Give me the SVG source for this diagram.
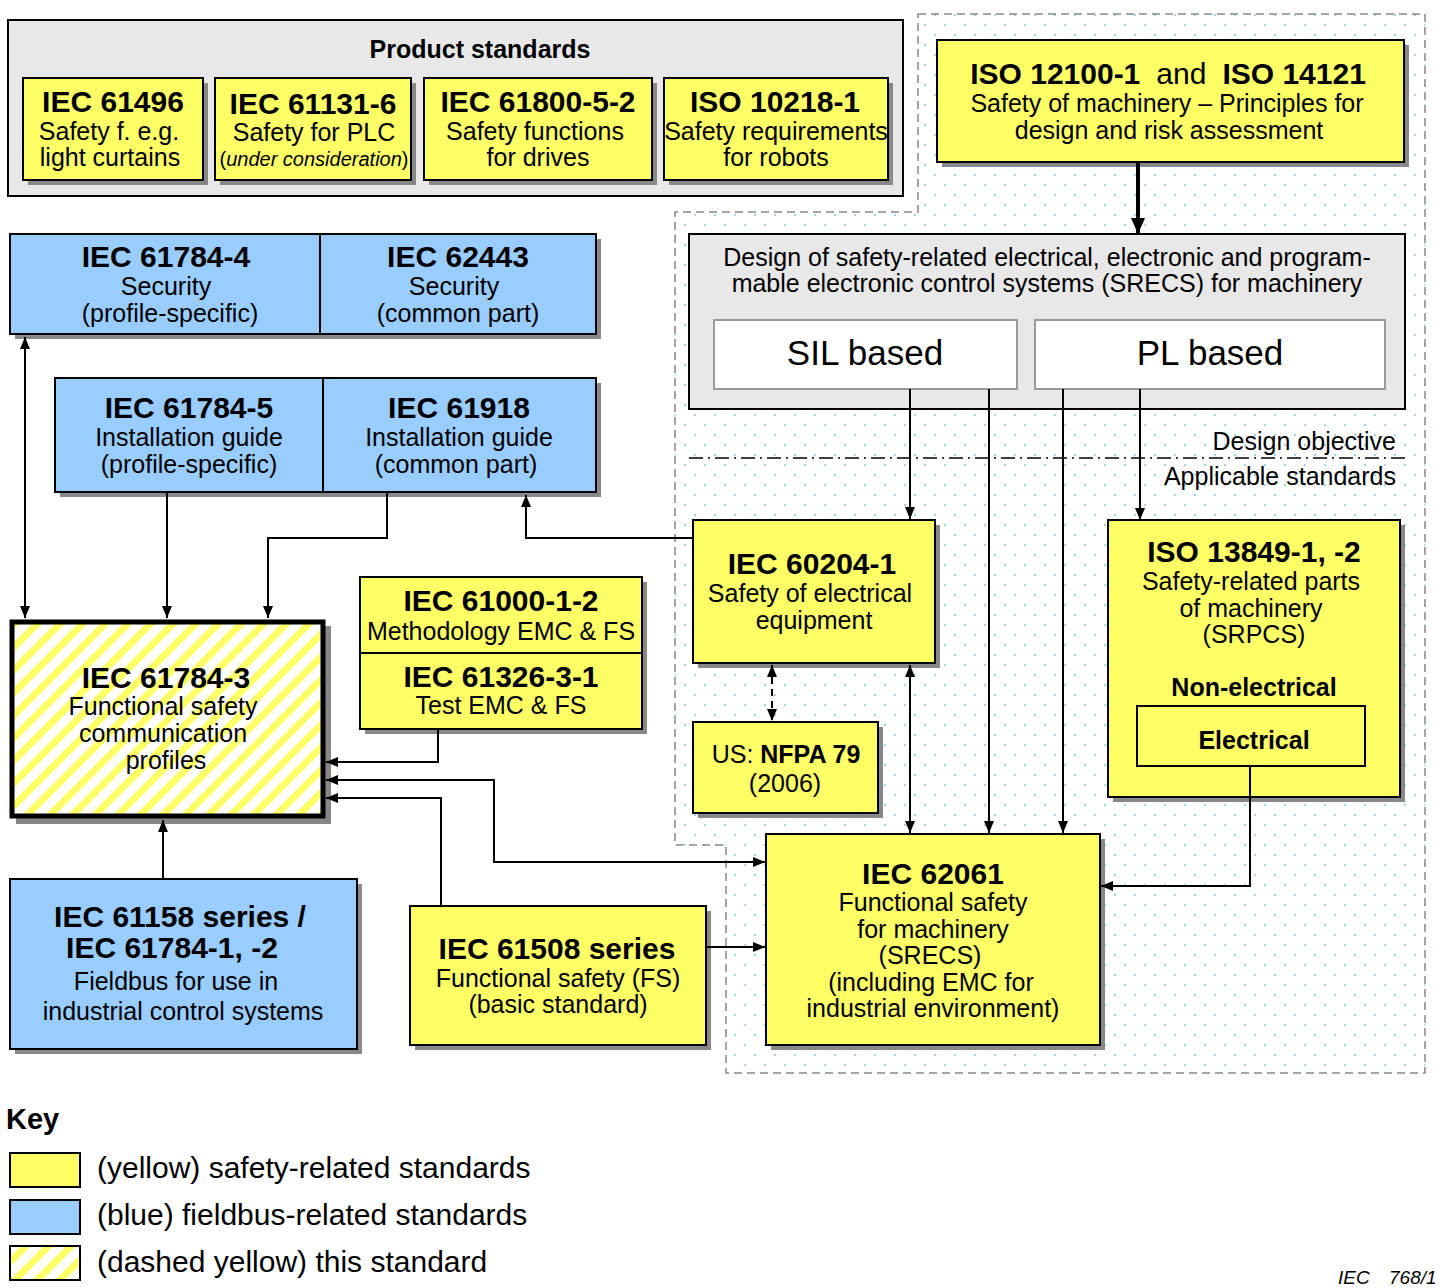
<svg xmlns="http://www.w3.org/2000/svg" width="1442" height="1288" viewBox="0 0 1442 1288">
<style>
text{font-family:"Liberation Sans",Arial,sans-serif;fill:#000;text-anchor:middle}
.t{font-weight:bold;font-size:30px}
.s{font-size:25px}
.y{fill:#ffff66;stroke:#000;stroke-width:2}
.b{fill:#99ccff;stroke:#000;stroke-width:2}
.g{fill:#e8e8e8;stroke:#000;stroke-width:2}
.sh{fill:#888}
.w{fill:#fff;stroke:#999;stroke-width:2}
.c{fill:none;stroke:#000;stroke-width:2}
.k{font-size:30px;text-anchor:start}
</style>
<defs>
<pattern id="dots" width="20" height="20" patternUnits="userSpaceOnUse">
<circle cx="5" cy="5" r="1.2" fill="#9fd6dc"/>
<circle cx="15" cy="15" r="1.2" fill="#9fd6dc"/>
</pattern>
<pattern id="hatch" width="16" height="16" patternUnits="userSpaceOnUse" patternTransform="rotate(45)">
<rect width="16" height="16" fill="#fff"/>
<rect width="7" height="16" fill="#ffff66"/>
</pattern>
<marker id="ah" viewBox="0 0 12 10" refX="12" refY="5" markerWidth="12" markerHeight="10" markerUnits="userSpaceOnUse" orient="auto-start-reverse">
<path d="M0,0 L12,5 L0,10 z" fill="#000"/>
</marker>
<marker id="ahb" viewBox="0 0 16 14" refX="16" refY="7" markerWidth="16" markerHeight="14" markerUnits="userSpaceOnUse" orient="auto">
<path d="M0,0 L16,7 L0,14 z" fill="#000"/>
</marker>
</defs>
<rect width="1442" height="1288" fill="#fff"/>

<g id="scope-region">
<path d="M918,14 L1425,14 L1425,1073 L726,1073 L726,845 L675,845 L675,212 L918,212 Z" fill="url(#dots)" stroke="#888" stroke-width="1.5" stroke-dasharray="8,5"/>
</g>

<g id="product-standards">
<rect x="8" y="20" width="895" height="176" class="g" stroke-width="1.5"/>
<text x="480" y="58" style="font-weight:bold;font-size:25px">Product standards</text>
</g>

<g id="iec61496">
<rect x="28" y="83" width="180" height="102" class="sh"/>
<rect x="23" y="78" width="180" height="102" class="y"/>
<text x="113" y="112" class="t">IEC 61496</text>
<text x="109" y="140" class="s">Safety f. e.g.</text>
<text x="110" y="166" class="s">light curtains</text>
</g>
<g id="iec61131">
<rect x="220" y="83" width="196" height="102" class="sh"/>
<rect x="215" y="78" width="196" height="102" class="y"/>
<text x="313" y="114" class="t">IEC 61131-6</text>
<text x="314" y="141" class="s">Safety for PLC</text>
<text x="314" y="166" style="font-size:20px">(<tspan font-style="italic">under consideration</tspan>)</text>
</g>
<g id="iec61800">
<rect x="429" y="83" width="228" height="102" class="sh"/>
<rect x="424" y="78" width="228" height="102" class="y"/>
<text x="538" y="112" class="t">IEC 61800-5-2</text>
<text x="535" y="140" class="s">Safety functions</text>
<text x="538" y="166" class="s">for drives</text>
</g>
<g id="iso10218">
<rect x="669" y="83" width="224" height="102" class="sh"/>
<rect x="664" y="78" width="224" height="102" class="y"/>
<text x="775" y="112" class="t">ISO 10218-1</text>
<text x="776" y="140" class="s">Safety requirements</text>
<text x="776" y="166" class="s">for robots</text>
</g>

<g id="iso12100">
<rect x="942" y="45" width="467" height="122" class="sh"/>
<rect x="937" y="40" width="467" height="122" class="y"/>
<text x="1168" y="84" class="t">ISO 12100-1<tspan dx="16" font-weight="normal">and</tspan><tspan dx="16">ISO 14121</tspan></text>
<text x="1167" y="112" class="s">Safety of machinery – Principles for</text>
<text x="1169" y="139" class="s">design and risk assessment</text>
</g>

<g id="srecs-design">
<rect x="689" y="234" width="716" height="175" class="g"/>
<text x="1047" y="266" style="font-size:25px">Design of safety-related electrical, electronic and program-</text>
<text x="1047" y="292" style="font-size:25px">mable electronic control systems (SRECS) for machinery</text>
<text x="1396" y="450" style="font-size:25px;text-anchor:end">Design objective</text>
<text x="1396" y="485" style="font-size:25px;text-anchor:end">Applicable standards</text>
</g>
<g id="sil-based">
<rect x="714" y="320" width="303" height="69" class="w"/>
<text x="865" y="365" style="font-size:35px">SIL based</text>
</g>
<g id="pl-based">
<rect x="1035" y="320" width="350" height="69" class="w"/>
<text x="1210" y="365" style="font-size:35px">PL based</text>
</g>

<g id="iec61784-4_62443">
<rect x="15" y="239" width="586" height="100" class="sh"/>
<rect x="10" y="234" width="586" height="100" class="b"/>
<line x1="320" y1="234" x2="320" y2="334" stroke="#000" stroke-width="2"/>
<text x="166" y="267" class="t">IEC 61784-4</text>
<text x="166" y="295" class="s">Security</text>
<text x="170" y="322" class="s">(profile-specific)</text>
<text x="458" y="267" class="t">IEC 62443</text>
<text x="454" y="295" class="s">Security</text>
<text x="458" y="322" class="s">(common part)</text>
</g>
<g id="iec61784-5_61918">
<rect x="60" y="383" width="541" height="114" class="sh"/>
<rect x="55" y="378" width="541" height="114" class="b"/>
<line x1="323" y1="378" x2="323" y2="492" stroke="#000" stroke-width="2"/>
<text x="189" y="418" class="t">IEC 61784-5</text>
<text x="189" y="446" class="s">Installation guide</text>
<text x="189" y="473" class="s">(profile-specific)</text>
<text x="459" y="418" class="t">IEC 61918</text>
<text x="459" y="446" class="s">Installation guide</text>
<text x="456" y="473" class="s">(common part)</text>
</g>

<g id="iec61784-3">
<rect x="16" y="626" width="315" height="198" class="sh"/>
<rect x="12" y="622" width="311" height="194" fill="url(#hatch)" stroke="#000" stroke-width="5"/>
<text x="166" y="688" class="t">IEC 61784-3</text>
<text x="163" y="715" class="s">Functional safety</text>
<text x="163" y="742" class="s">communication</text>
<text x="166" y="769" class="s">profiles</text>
</g>

<g id="iec61000_61326">
<rect x="365" y="582" width="282" height="152" class="sh"/>
<rect x="360" y="577" width="282" height="152" class="y"/>
<line x1="360" y1="653" x2="642" y2="653" stroke="#000" stroke-width="2"/>
<text x="501" y="611" class="t">IEC 61000-1-2</text>
<text x="501" y="640" class="s">Methodology EMC &amp; FS</text>
<text x="501" y="687" class="t">IEC 61326-3-1</text>
<text x="501" y="714" class="s">Test EMC &amp; FS</text>
</g>

<g id="iec60204">
<rect x="698" y="525" width="242" height="143" class="sh"/>
<rect x="693" y="520" width="242" height="143" class="y"/>
<text x="812" y="574" class="t">IEC 60204-1</text>
<text x="810" y="602" class="s">Safety of electrical</text>
<text x="814" y="629" class="s">equipment</text>
</g>

<g id="nfpa79">
<rect x="698" y="727" width="185" height="91" class="sh"/>
<rect x="693" y="722" width="185" height="91" class="y"/>
<text x="786" y="763" class="s">US: <tspan font-weight="bold">NFPA 79</tspan></text>
<text x="785" y="792" class="s">(2006)</text>
</g>

<g id="iso13849">
<rect x="1113" y="525" width="292" height="277" class="sh"/>
<rect x="1108" y="520" width="292" height="277" class="y"/>
<text x="1254" y="562" class="t">ISO 13849-1, -2</text>
<text x="1251" y="590" class="s">Safety-related parts</text>
<text x="1251" y="617" class="s">of machinery</text>
<text x="1254" y="643" class="s">(SRPCS)</text>
<text x="1254" y="696" style="font-weight:bold;font-size:25px">Non-electrical</text>
<rect x="1137" y="706" width="228" height="60" fill="none" stroke="#000" stroke-width="2"/>
<text x="1254" y="749" style="font-weight:bold;font-size:25px">Electrical</text>
</g>

<g id="iec62061">
<rect x="771" y="839" width="334" height="211" class="sh"/>
<rect x="766" y="834" width="334" height="211" class="y"/>
<text x="933" y="884" class="t">IEC 62061</text>
<text x="933" y="911" class="s">Functional safety</text>
<text x="933" y="938" class="s">for machinery</text>
<text x="930" y="964" class="s">(SRECS)</text>
<text x="931" y="991" class="s">(including EMC for</text>
<text x="933" y="1017" class="s">industrial environment)</text>
</g>

<g id="iec61508">
<rect x="415" y="911" width="296" height="139" class="sh"/>
<rect x="410" y="906" width="296" height="139" class="y"/>
<text x="557" y="959" class="t">IEC 61508 series</text>
<text x="558" y="987" class="s">Functional safety (FS)</text>
<text x="558" y="1013" class="s">(basic standard)</text>
</g>

<g id="iec61158">
<rect x="15" y="884" width="347" height="170" class="sh"/>
<rect x="10" y="879" width="347" height="170" class="b"/>
<text x="180" y="927" class="t">IEC 61158 series /</text>
<text x="172" y="958" class="t">IEC 61784-1, -2</text>
<text x="176" y="990" class="s">Fieldbus for use in</text>
<text x="183" y="1020" class="s">industrial control systems</text>
</g>

<g id="connectors">
<path d="M1138,163 L1138,234" fill="none" stroke="#000" stroke-width="4" marker-end="url(#ahb)"/>
<path d="M689,458 L1405,458" fill="none" stroke="#000" stroke-width="1.5" stroke-dasharray="14,5,2,5"/>
<path class="c" d="M910,389 L910,519" marker-end="url(#ah)"/>
<path class="c" d="M989,389 L989,833" marker-end="url(#ah)"/>
<path class="c" d="M1063,389 L1063,833" marker-end="url(#ah)"/>
<path class="c" d="M1140,389 L1140,520" marker-end="url(#ah)"/>
<path class="c" d="M772,665 L772,721" stroke-width="2.5" stroke-dasharray="7,5" marker-start="url(#ah)" marker-end="url(#ah)"/>
<path class="c" d="M910,665 L910,833" marker-start="url(#ah)" marker-end="url(#ah)"/>
<path class="c" d="M693,538 L526,538 L526,495" marker-end="url(#ah)"/>
<path class="c" d="M1250,766 L1250,886 L1101,886" marker-end="url(#ah)"/>
<path class="c" d="M707,947 L765,947" marker-end="url(#ah)"/>
<path class="c" d="M326,780 L494,780 L494,862 L765,862" marker-start="url(#ah)" marker-end="url(#ah)"/>
<path class="c" d="M441,906 L441,798 L326,798" marker-end="url(#ah)"/>
<path class="c" d="M438,730 L438,762 L326,762" marker-end="url(#ah)"/>
<path class="c" d="M163,878 L163,820" marker-end="url(#ah)"/>
<path class="c" d="M25,337 L25,618" marker-start="url(#ah)" marker-end="url(#ah)"/>
<path class="c" d="M167,493 L167,618" marker-end="url(#ah)"/>
<path class="c" d="M387,493 L387,538 L268,538 L268,618" marker-end="url(#ah)"/>
</g>

<g id="key">
<text x="6" y="1129" style="font-weight:bold;font-size:29px;text-anchor:start">Key</text>
<rect x="10" y="1153" width="70" height="34" class="y"/>
<rect x="10" y="1200" width="70" height="34" class="b"/>
<rect x="10" y="1246" width="70" height="34" fill="url(#hatch)" stroke="#000" stroke-width="2"/>
<text x="97" y="1178" class="k">(yellow) safety-related standards</text>
<text x="97" y="1225" class="k">(blue) fieldbus-related standards</text>
<text x="97" y="1272" class="k">(dashed yellow) this standard</text>
</g>

<g id="figure-id">
<text x="1338" y="1284" style="font-size:19px;font-style:italic;text-anchor:start">IEC</text>
<text x="1389" y="1284" style="font-size:19px;font-style:italic;text-anchor:start">768/1</text>
</g>
</svg>
